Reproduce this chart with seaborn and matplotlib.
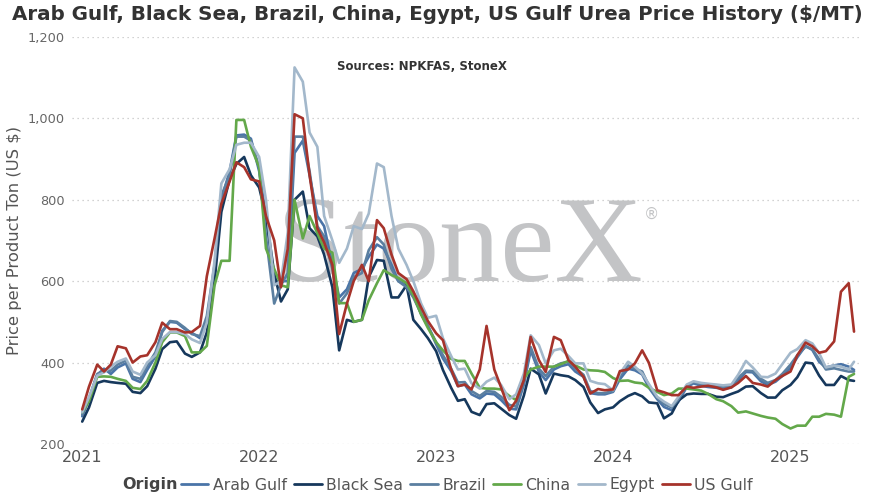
import pandas as pd
import matplotlib
matplotlib.use('Agg')
import matplotlib.pyplot as plt
import matplotlib.dates as mdates
from matplotlib.lines import Line2D
from matplotlib.ticker import FuncFormatter
import seaborn as sns

# semi-monthly readings, Jan 2021 -> mid May 2025
dates = list(pd.date_range('2021-01-01', '2025-05-01', freq='SMS')) + [pd.Timestamp('2025-05-12')]

arab_gulf = [
    268, 310, 370, 385, 372, 388, 398, 360, 352, 382, 415, 478,
    500, 498, 482, 473, 460, 505, 620, 800, 870, 958, 960, 950,
    870, 760, 600, 600, 600, 915, 945, 860, 760, 735, 640, 560,
    580, 620, 630, 660, 690, 680, 640, 600, 590, 565, 520, 490,
    445, 410, 379, 342, 346, 322, 312, 324, 322, 308, 287, 285,
    346, 430, 377, 357, 383, 391, 396, 378, 365, 325, 322, 322,
    328, 359, 385, 381, 371, 338, 310, 291, 283, 304, 340, 349,
    343, 340, 338, 336, 339, 356, 377, 376, 354, 345, 353, 367,
    387, 413, 441, 431, 402, 388, 393, 396, 390, 382,
]
black_sea = [
    255, 290, 350, 355, 352, 350, 348, 328, 325, 342, 385, 433,
    450, 452, 422, 414, 425, 474, 600, 770, 850, 888, 905, 860,
    830, 760, 620, 550, 580, 800, 820, 730, 710, 665, 585, 430,
    505, 500, 505, 610, 652, 650, 560, 560, 590, 505, 482, 460,
    428, 382, 338, 306, 310, 279, 271, 298, 300, 287, 271, 262,
    319, 385, 371, 324, 373, 369, 366, 357, 340, 302, 276, 285,
    290, 305, 318, 325, 317, 302, 300, 263, 275, 307, 322, 324,
    323, 323, 316, 315, 323, 329, 341, 342, 325, 314, 314, 332,
    345, 364, 400, 398, 368, 345, 345, 367, 357, 355,
]
brazil = [
    272, 312, 372, 380, 380, 395, 405, 365, 360, 392, 425, 475,
    502, 500, 485, 470, 465, 514, 640, 810, 860, 955, 955, 945,
    880, 710, 545, 590, 620, 955, 955, 870, 735, 710, 630, 545,
    570, 610, 620, 676, 708, 690, 630, 600, 585, 560, 520, 490,
    450, 418, 385, 351, 352, 330, 318, 330, 328, 316, 296, 292,
    353, 438, 385, 367, 390, 398, 402, 386, 370, 330, 325, 325,
    330, 367, 393, 385, 378, 343, 313, 298, 290, 310, 343, 352,
    347, 345, 343, 341, 342, 362, 380, 379, 360, 350, 357, 372,
    395, 418, 439, 433, 408, 383, 386, 382, 378, 378,
]
china = [
    278, 305, 365, 366, 365, 360, 355, 338, 335, 355, 400, 450,
    474, 474, 465, 425, 425, 441, 590, 650, 650, 996, 996, 930,
    880, 680, 630, 590, 585, 800, 705, 760, 718, 680, 670, 546,
    546, 500, 505, 553, 595, 627, 615, 608, 595, 565, 518, 485,
    450, 430, 409, 404, 404, 373, 338, 336, 336, 334, 318, 308,
    361, 383, 390, 390, 390, 396, 404, 393, 383, 381, 380, 377,
    362, 355, 356, 351, 349, 338, 328, 320, 324, 336, 336, 334,
    331, 323, 310, 305, 293, 277, 280, 275, 269, 265, 262, 249,
    238, 245, 245, 267, 267, 274, 272, 267, 365, 372,
]
egypt = [
    278, 315, 368, 376, 390, 402, 410, 378, 370, 400, 418, 458,
    475, 475, 470, 457, 448, 498, 650, 840, 875, 935, 940, 940,
    905, 800, 590, 600, 720, 1125, 1090, 965, 930, 760, 700, 645,
    680, 735, 728, 766, 889, 880, 760, 680, 640, 600, 545, 510,
    515, 460, 416, 383, 385, 349, 336, 353, 363, 345, 310, 322,
    373, 467, 443, 398, 430, 434, 416, 398, 398, 355, 349, 347,
    332, 373, 402, 390, 373, 347, 316, 304, 293, 316, 346, 354,
    350, 348, 346, 344, 346, 370, 404, 388, 365, 364, 373, 396,
    424, 433, 455, 447, 423, 388, 393, 390, 383, 402,
]
us_gulf = [
    285, 341, 395, 378, 395, 440, 435, 400, 415, 418, 450, 498,
    482, 482, 474, 475, 490, 612, 705, 790, 845, 892, 880, 850,
    845, 760, 700, 585, 680, 1010, 1000, 860, 730, 695, 640, 470,
    545, 600, 640, 600, 750, 730, 665, 620, 605, 575, 535, 502,
    472, 455, 383, 342, 346, 334, 383, 490, 383, 339, 283, 306,
    357, 463, 406, 377, 463, 455, 406, 390, 365, 324, 335, 332,
    334, 379, 383, 398, 430, 399, 332, 327, 320, 320, 341, 338,
    341, 343, 339, 333, 339, 350, 367, 350, 346, 341, 357, 367,
    378, 418, 449, 440, 424, 428, 452, 574, 595, 476,
]

origins = ['Arab Gulf', 'Black Sea', 'Brazil', 'China', 'Egypt', 'US Gulf']
colors = ['#4a74a8', '#16385c', '#5b7fa0', '#63a84a', '#a3b8cb', '#a6332b']
y_ticks = [200, 400, 600, 800, 1000, 1200]

series = dict(zip(origins, [arab_gulf, black_sea, brazil, china, egypt, us_gulf]))
df = pd.concat([pd.DataFrame({'Date': dates, 'Price': v, 'Origin': k})
                for k, v in series.items()], ignore_index=True)
palette = dict(zip(origins, colors))

sns.set_theme(style='white')
plt.rcParams['font.family'] = ['DejaVu Sans']

fig, ax = plt.subplots(figsize=(8.7, 4.92), dpi=100)
fig.subplots_adjust(left=0.0828, right=0.99, top=0.925, bottom=0.0976)

# watermark behind the lines
ax.text(277 / 870, 1 - 281 / 492, 'StoneX', transform=fig.transFigure,
        family='Liberation Serif', fontsize=88, color='#c3c4c6',
        ha='left', va='baseline', zorder=0.5)
ax.text(652 / 870, 1 - 214 / 492, '®', transform=fig.transFigure,
        fontsize=11, color='#c3c4c6', ha='center', va='center', zorder=0.5)

sns.lineplot(data=df, x='Date', y='Price', hue='Origin', hue_order=origins,
             palette=palette, linewidth=1.9, legend=False, ax=ax)

ax.set_ylim(200, 1200)
ax.set_xlim(pd.Timestamp('2020-12-11'), pd.Timestamp('2025-05-27'))
ax.set_yticks(y_ticks)
ax.yaxis.set_major_formatter(FuncFormatter(lambda v, p: f'{v:,.0f}'))
ax.xaxis.set_major_locator(mdates.YearLocator())
ax.xaxis.set_major_formatter(mdates.DateFormatter('%Y'))
ax.yaxis.grid(True, linestyle=(0, (1, 3)), color='#c4c4c4', linewidth=0.9)
ax.xaxis.grid(False)
for s in ax.spines.values():
    s.set_visible(False)
ax.tick_params(axis='y', length=0, labelsize=9.3, labelcolor='#666666', pad=5)
ax.tick_params(axis='x', length=0, labelsize=11.5, labelcolor='#555555', pad=4)
ax.set_xlabel('')
ax.set_ylabel('Price per Product Ton (US $)', fontsize=11.8, color='#555555')
ax.yaxis.set_label_coords(-0.064, 0.5)

fig.text(0.014, 1 - 14 / 492,
         'Arab Gulf, Black Sea, Brazil, China, Egypt, US Gulf Urea Price History ($/MT)',
         fontsize=14.3, fontweight='bold', color='#333333', va='center', ha='left')
fig.text(422 / 870, 1 - 67 / 492, 'Sources: NPKFAS, StoneX', fontsize=8.5,
         fontweight='bold', color='#333333', ha='center', va='center')

# legend row at the bottom
leg_y = 1 - 485 / 492
fig.text(122 / 870, leg_y, 'Origin', fontsize=11.5, fontweight='bold',
         color='#444444', va='center', ha='left')
handles = [Line2D([], [], color=c, linewidth=2) for c in colors]
fig.legend(handles, origins, loc='center left', bbox_to_anchor=(181 / 870, leg_y),
           ncol=6, frameon=False, fontsize=11.3, handlelength=1.75,
           handletextpad=0.3, columnspacing=0.45, borderaxespad=0, borderpad=0,
           labelcolor='#555555')

fig.savefig('out.png', dpi=100)
